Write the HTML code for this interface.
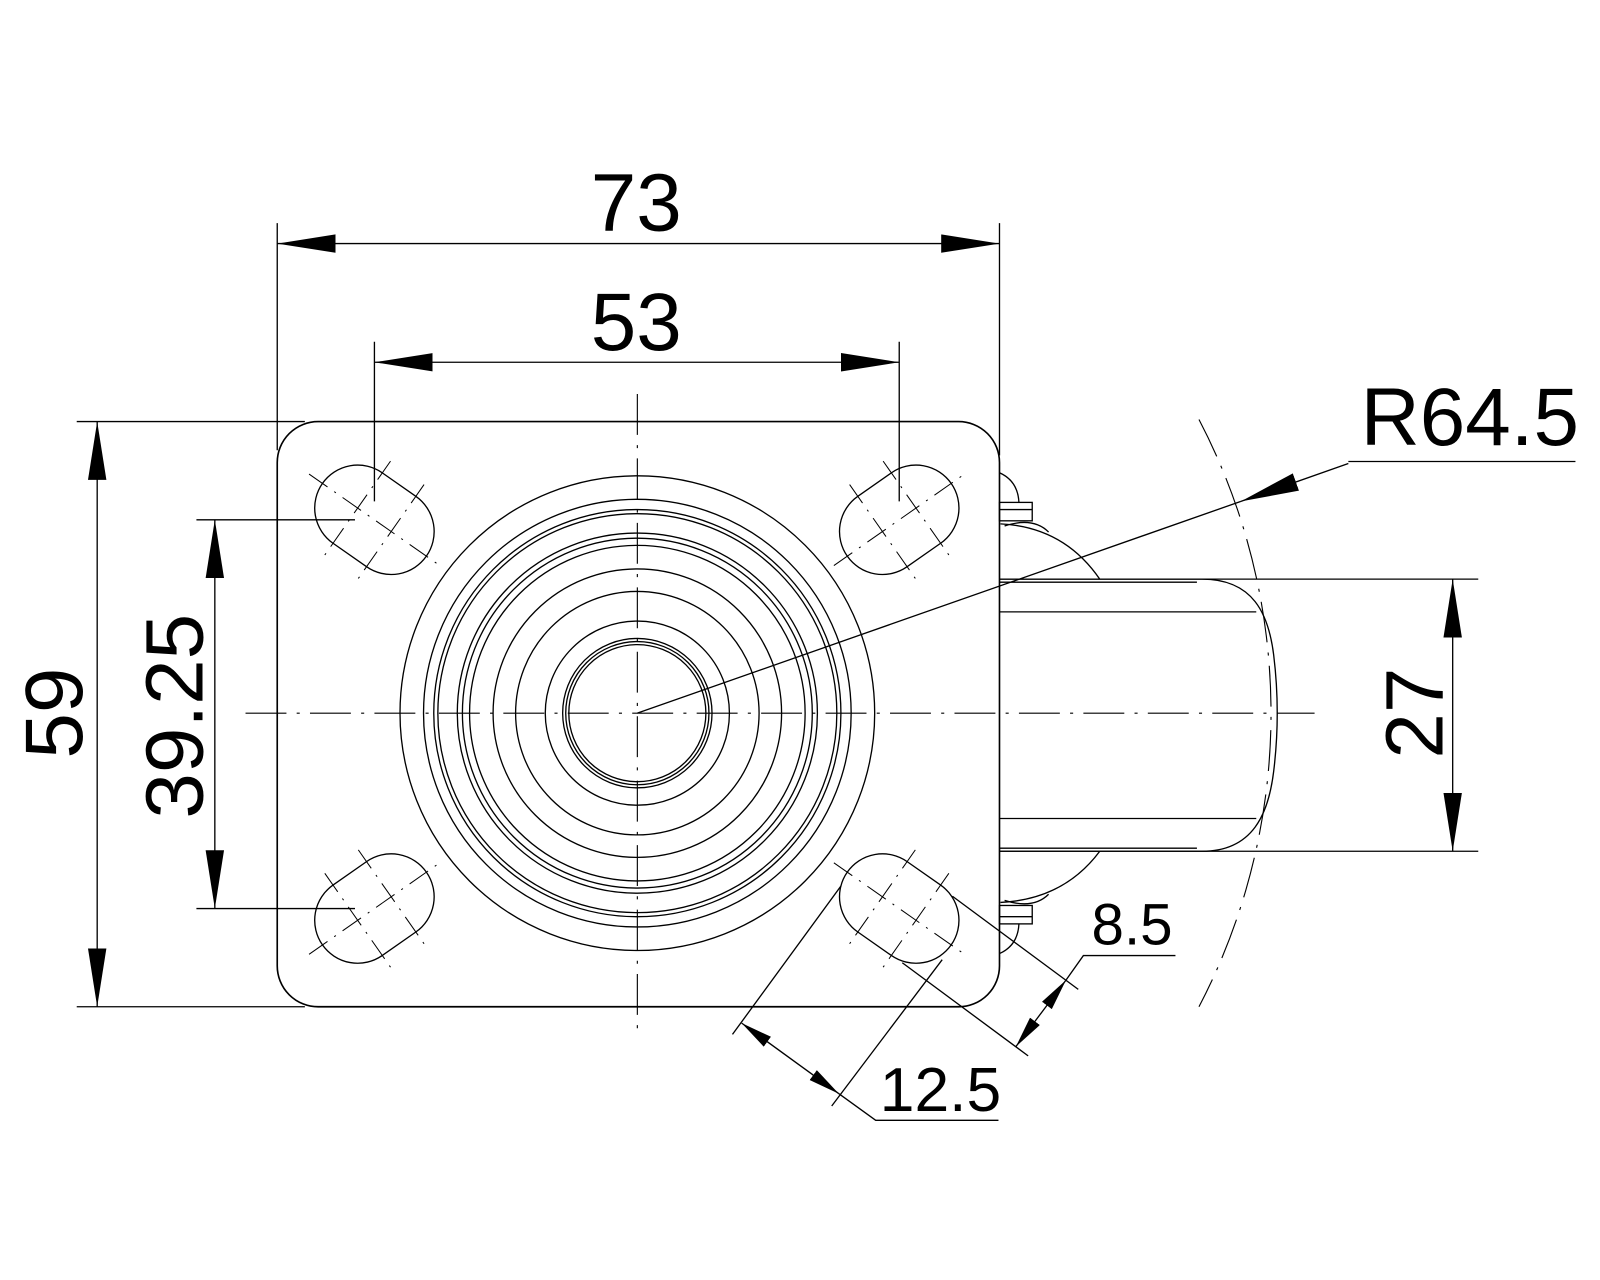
<!DOCTYPE html>
<html><head><meta charset="utf-8"><style>
html,body{margin:0;padding:0;background:#fff;}
svg{display:block;}
text{font-family:"Liberation Sans",Arial,sans-serif;fill:#000;}
</style></head><body>
<svg width="1600" height="1280" viewBox="0 0 1564 1251" xmlns="http://www.w3.org/2000/svg">
<defs>
<marker id="a" markerUnits="userSpaceOnUse" markerWidth="60" markerHeight="20" refX="57" refY="9" orient="auto-start-reverse"><path d="M0,0 L57,9 L0,18 Z" fill="#000"/></marker>
<marker id="s" markerUnits="userSpaceOnUse" markerWidth="34" markerHeight="14" refX="31" refY="6" orient="auto-start-reverse"><path d="M0,0 L31,6 L0,12 Z" fill="#000"/></marker>
</defs>
<g fill="none" stroke="#000" stroke-width="1.3">
<!-- plate -->
<rect x="271" y="412" width="706" height="572" rx="40" stroke-width="1.6"/>
<!-- circles -->
<circle cx="623" cy="697" r="232"/>
<circle cx="623" cy="697" r="209"/>
<circle cx="623" cy="697" r="199"/>
<circle cx="623" cy="697" r="195"/>
<circle cx="623" cy="697" r="176"/>
<circle cx="623" cy="697" r="171"/>
<circle cx="623" cy="697" r="164"/>
<circle cx="623" cy="697" r="141"/>
<circle cx="623" cy="697" r="119"/>
<circle cx="623" cy="697" r="90"/>
<circle cx="623" cy="697" r="73"/>
<circle cx="623" cy="697" r="70"/>
<circle cx="623" cy="697" r="67"/>
<!-- center lines -->
<g stroke-width="1.1" stroke-dasharray="40 10 3 10">
<line x1="240" y1="697" x2="1285" y2="697"/>
<line x1="623" y1="385" x2="623" y2="1015"/>
<path d="M1172,410 A620,620 0 0 1 1172,984"/>
</g>
<!-- slots -->
<g id="slot" transform="translate(366,508) rotate(35)">
<rect x="-62" y="-42" width="124" height="84" rx="42"/>
<g stroke-width="1" stroke-dasharray="22 8 2 8">
<line x1="-78" y1="0" x2="78" y2="0"/><line x1="-20" y1="-56" x2="-20" y2="56"/><line x1="20" y1="-56" x2="20" y2="56"/>
</g></g>
<g transform="translate(879,508) rotate(-35)">
<rect x="-62" y="-42" width="124" height="84" rx="42"/>
<g stroke-width="1" stroke-dasharray="22 8 2 8">
<line x1="-78" y1="0" x2="78" y2="0"/><line x1="-20" y1="-56" x2="-20" y2="56"/><line x1="20" y1="-56" x2="20" y2="56"/>
</g></g>
<g transform="translate(366,888) rotate(-35)">
<rect x="-62" y="-42" width="124" height="84" rx="42"/>
<g stroke-width="1" stroke-dasharray="22 8 2 8">
<line x1="-78" y1="0" x2="78" y2="0"/><line x1="-20" y1="-56" x2="-20" y2="56"/><line x1="20" y1="-56" x2="20" y2="56"/>
</g></g>
<g transform="translate(879,888) rotate(35)">
<rect x="-62" y="-42" width="124" height="84" rx="42"/>
<g stroke-width="1" stroke-dasharray="22 8 2 8">
<line x1="-78" y1="0" x2="78" y2="0"/><line x1="-20" y1="-56" x2="-20" y2="56"/><line x1="20" y1="-56" x2="20" y2="56"/>
</g></g>
<!-- wheel side -->
<path d="M977,566 L1175,566 C1225,566 1240,600 1245,640 Q1252,697 1245,754 C1240,795 1225,832 1175,832 L977,832"/>
<line x1="977" y1="569" x2="1170" y2="569"/>
<line x1="977" y1="829" x2="1170" y2="829"/>
<line x1="977" y1="598" x2="1228" y2="598"/>
<line x1="977" y1="800" x2="1228" y2="800"/>
<rect x="977" y="491" width="32" height="18"/>
<line x1="977" y1="498" x2="1009" y2="498"/>
<path d="M977,462 Q995,470 996,491"/>
<path d="M978,512 Q1040,515 1075,566"/>
<path d="M982,514 Q1010,505 1025,520"/>
<rect x="977" y="885" width="32" height="18"/>
<line x1="977" y1="896" x2="1009" y2="896"/>
<path d="M977,932 Q995,924 996,903"/>
<path d="M978,882 Q1040,879 1075,832"/>
<path d="M982,880 Q1010,889 1025,874"/>
<!-- extension lines -->
<line x1="271" y1="218" x2="271" y2="440"/>
<line x1="977" y1="218" x2="977" y2="445"/>
<line x1="366" y1="334" x2="366" y2="490"/>
<line x1="879" y1="334" x2="879" y2="490"/>
<line x1="75" y1="412" x2="298" y2="412"/>
<line x1="75" y1="984" x2="298" y2="984"/>
<line x1="192" y1="508" x2="347" y2="508"/>
<line x1="192" y1="888" x2="347" y2="888"/>
<line x1="977" y1="566" x2="1445" y2="566"/>
<line x1="977" y1="832" x2="1445" y2="832"/>
<!-- dims -->
<line x1="271" y1="238" x2="977" y2="238" marker-start="url(#a)" marker-end="url(#a)"/>
<line x1="366" y1="354" x2="879" y2="354" marker-start="url(#a)" marker-end="url(#a)"/>
<line x1="95" y1="412" x2="95" y2="984" marker-start="url(#a)" marker-end="url(#a)"/>
<line x1="210" y1="508" x2="210" y2="888" marker-start="url(#a)" marker-end="url(#a)"/>
<line x1="1420" y1="566" x2="1420" y2="832" marker-start="url(#a)" marker-end="url(#a)"/>
<!-- R64.5 -->
<line x1="623" y1="697" x2="1213" y2="490"/>
<line x1="1318" y1="453" x2="1213" y2="490" marker-end="url(#a)"/>
<line x1="1318" y1="451" x2="1540" y2="451"/>
<!-- 8.5 -->
<line x1="931" y1="876" x2="1054" y2="967"/>
<line x1="882" y1="941" x2="1005" y2="1032"/>
<line x1="1042" y1="958" x2="993" y2="1023" marker-start="url(#s)" marker-end="url(#s)"/>
<polyline points="1042,958 1059,934 1149,934"/>
<!-- 12.5 -->
<line x1="822" y1="866" x2="716" y2="1011"/>
<line x1="921" y1="938" x2="813" y2="1081"/>
<line x1="725" y1="1000" x2="820" y2="1069" marker-start="url(#s)" marker-end="url(#s)"/>
<polyline points="820,1069 856,1095 976,1095"/>
</g>
<text x="622" y="225" font-size="80" text-anchor="middle">73</text>
<text x="622" y="342" font-size="80" text-anchor="middle">53</text>
<text x="1330" y="435" font-size="80">R64.5</text>
<text font-size="80" text-anchor="middle" transform="translate(80,697) rotate(-90)">59</text>
<text font-size="80" text-anchor="middle" transform="translate(198,700) rotate(-90)">39.25</text>
<text font-size="80" text-anchor="middle" transform="translate(1410,697) rotate(-90)">27</text>
<text x="1067" y="923" font-size="57">8.5</text>
<text x="860" y="1086" font-size="61">12.5</text>
</svg>
</body></html>
